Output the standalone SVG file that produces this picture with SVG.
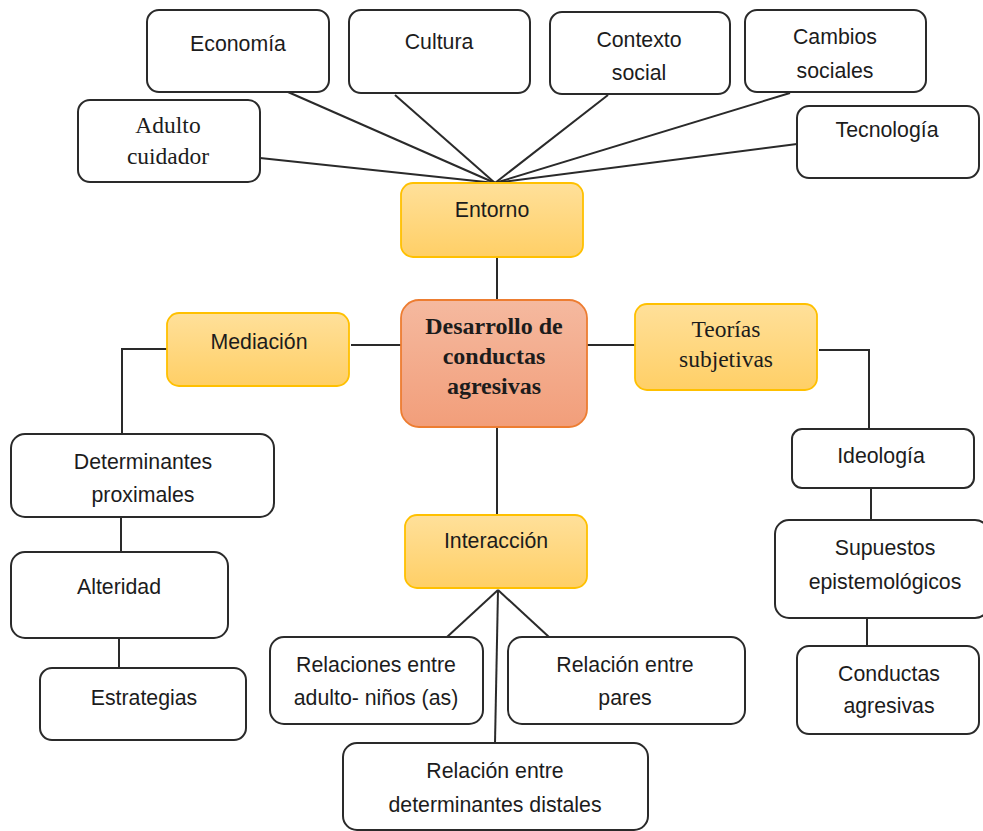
<svg xmlns="http://www.w3.org/2000/svg" width="983" height="831" viewBox="0 0 983 831">
<defs>
<linearGradient id="gy" x1="0" y1="0" x2="0" y2="1">
<stop offset="0" stop-color="#FFE09A"/>
<stop offset="1" stop-color="#FFCF66"/>
</linearGradient>
<linearGradient id="go" x1="0" y1="0" x2="0" y2="1">
<stop offset="0" stop-color="#F5B99F"/>
<stop offset="1" stop-color="#F29E7A"/>
</linearGradient>
</defs>
<style>
.w{fill:#fff;stroke:#2a2a2a;stroke-width:2}
.y{fill:url(#gy);stroke:#FFC000;stroke-width:1.8}
.o{fill:url(#go);stroke:#ED7D31;stroke-width:1.8}
.t{font-family:"Liberation Sans",Arial,sans-serif;font-size:21.3px;fill:#1c1c1c;text-anchor:middle}
.s{font-family:"Liberation Serif","Times New Roman",serif;font-size:23.5px;fill:#1c1c1c;text-anchor:middle}
.b{font-family:"Liberation Serif","Times New Roman",serif;font-size:24px;font-weight:bold;fill:#1c1c1c;text-anchor:middle}
.c{fill:none;stroke:#2a2a2a;stroke-width:2}
</style>
<rect width="983" height="831" fill="#fff"/>
<g id="connectors" class="c">
<line x1="288" y1="92" x2="495" y2="183"/>
<line x1="395" y1="95" x2="495" y2="183"/>
<line x1="608" y1="95" x2="495" y2="183"/>
<line x1="790" y1="93" x2="495" y2="183"/>
<line x1="260" y1="158" x2="495" y2="183"/>
<line x1="797" y1="144" x2="495" y2="183"/>
<line x1="497" y1="257" x2="497" y2="300"/>
<line x1="351" y1="345" x2="401" y2="345"/>
<line x1="587" y1="345" x2="635" y2="345"/>
<line x1="497" y1="427" x2="497" y2="515"/>
<polyline points="167,349 122,349 122,434"/>
<polyline points="819,350 869,350 869,429"/>
<line x1="871" y1="488" x2="871" y2="520"/>
<line x1="867" y1="618" x2="867" y2="646"/>
<line x1="121" y1="517" x2="121" y2="552"/>
<line x1="119" y1="638" x2="119" y2="668"/>
<line x1="498" y1="590" x2="447" y2="637"/>
<line x1="498" y1="590" x2="549" y2="637"/>
<line x1="498" y1="590" x2="495" y2="743"/>
</g>
<g id="economia"><rect class="w" x="147" y="10" width="182" height="82" rx="12"/><text class="t" x="238" y="51">Economía</text></g>
<g id="cultura"><rect class="w" x="349" y="10" width="181" height="83" rx="12"/><text class="t" x="439" y="49">Cultura</text></g>
<g id="contexto"><rect class="w" x="550" y="12" width="180" height="82" rx="12"/><text class="t" x="639" y="47">Contexto</text><text class="t" x="639" y="80">social</text></g>
<g id="cambios"><rect class="w" x="745" y="10" width="181" height="82" rx="12"/><text class="t" x="835" y="44">Cambios</text><text class="t" x="835" y="78">sociales</text></g>
<g id="adulto"><rect class="w" x="78" y="100" width="182" height="82" rx="12"/><text class="s" x="168" y="133">Adulto</text><text class="s" x="168" y="164">cuidador</text></g>
<g id="tecnologia"><rect class="w" x="797" y="106" width="182" height="72" rx="12"/><text class="t" x="887" y="137">Tecnología</text></g>
<g id="entorno"><rect class="y" x="401" y="183" width="182" height="74" rx="12"/><text class="t" x="492" y="217">Entorno</text></g>
<g id="desarrollo"><rect class="o" x="401" y="300" width="186" height="127" rx="18"/><text class="b" x="494" y="334">Desarrollo de</text><text class="b" x="494" y="364">conductas</text><text class="b" x="494" y="394">agresivas</text></g>
<g id="mediacion"><rect class="y" x="167" y="313" width="182" height="73" rx="12"/><text class="t" x="259" y="349">Mediación</text></g>
<g id="teorias"><rect class="y" x="635" y="304" width="182" height="86" rx="12"/><text class="s" x="726" y="337">Teorías</text><text class="s" x="726" y="367">subjetivas</text></g>
<g id="ideologia"><rect class="w" x="792" y="429" width="182" height="59" rx="10"/><text class="t" x="881" y="463">Ideología</text></g>
<g id="supuestos"><rect class="w" x="775" y="520" width="214" height="98" rx="14"/><text class="t" x="885" y="555">Supuestos</text><text class="t" x="885" y="589">epistemológicos</text></g>
<g id="conductas"><rect class="w" x="797" y="646" width="182" height="88" rx="12"/><text class="t" x="889" y="681">Conductas</text><text class="t" x="889" y="713">agresivas</text></g>
<g id="determinantes"><rect class="w" x="11" y="434" width="263" height="83" rx="14"/><text class="t" x="143" y="469">Determinantes</text><text class="t" x="143" y="502">proximales</text></g>
<g id="alteridad"><rect class="w" x="11" y="552" width="217" height="86" rx="14"/><text class="t" x="119" y="594">Alteridad</text></g>
<g id="estrategias"><rect class="w" x="40" y="668" width="206" height="72" rx="12"/><text class="t" x="144" y="705">Estrategias</text></g>
<g id="interaccion"><rect class="y" x="405" y="515" width="182" height="73" rx="12"/><text class="t" x="496" y="548">Interacción</text></g>
<g id="relaciones"><rect class="w" x="270" y="637" width="213" height="87" rx="14"/><text class="t" x="376" y="672">Relaciones entre</text><text class="t" x="376" y="705">adulto- niños (as)</text></g>
<g id="pares"><rect class="w" x="508" y="637" width="237" height="87" rx="14"/><text class="t" x="625" y="672">Relación entre</text><text class="t" x="625" y="705">pares</text></g>
<g id="distales"><rect class="w" x="343" y="743" width="305" height="87" rx="14"/><text class="t" x="495" y="778">Relación entre</text><text class="t" x="495" y="812">determinantes distales</text></g>
</svg>
